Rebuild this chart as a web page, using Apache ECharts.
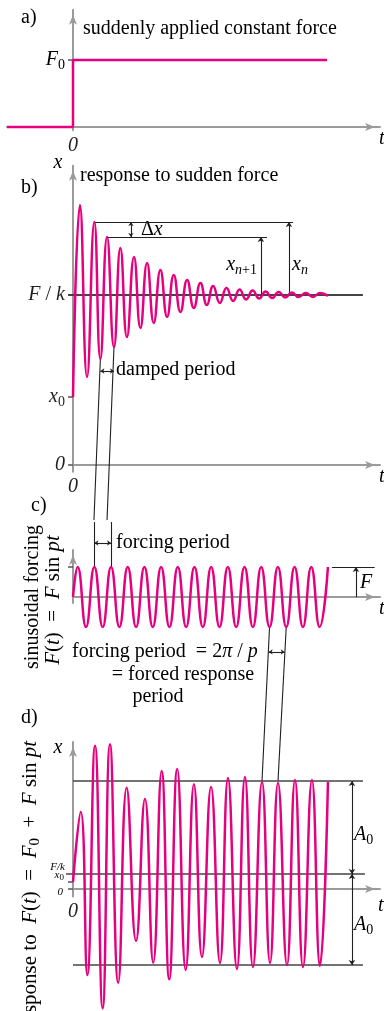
<!DOCTYPE html>
<html>
<head>
<meta charset="utf-8">
<script src="https://cdn.jsdelivr.net/npm/echarts@6.0.0/dist/echarts.min.js"></script>
<style>
  html, body { margin: 0; padding: 0; background: #fff; }
  #chart { width: 384px; height: 1011px; }
</style>
</head>
<body>
<div id="chart"></div>
<script>
// a) suddenly applied constant force (F0 = 1)
const aTimes = [-4.94, 0, 0, 19.03];
const aForce = [0, 0, 1, 1];

// b) response to sudden force  (x0 = 4, F/k = 10), extremes
const bTimes = [0, 0.52, 1.05, 1.6, 2.05, 2.55, 3.07, 3.55, 4.04, 4.57, 5.05, 5.55, 6.05, 6.55, 7.05, 7.55,
  8.05, 8.55, 9.05, 9.55, 10.03, 10.5, 11.0, 11.5, 12.0, 12.48, 12.97, 13.46, 13.95, 14.43, 14.92, 15.41,
  15.9, 16.4, 16.9, 17.45, 17.97, 18.5, 19.1];
const bResponse = [4, 15.29, 5.18, 14.29, 6.24, 13.41, 6.94, 12.76, 7.53, 12.24, 8.06, 11.88, 8.35, 11.47,
  8.71, 11.18, 9.0, 10.88, 9.24, 10.71, 9.41, 10.53, 9.53, 10.41, 9.65, 10.32, 9.74, 10.26, 9.79, 10.21,
  9.82, 10.18, 9.85, 10.15, 9.88, 10.12, 9.88, 10.12, 9.95];
const bTicks = [0, 4, 10];
const bTickLabels = ['{i|0}', '{i|x}{s|0}', '{i|F}{r| / }{i|k}'];

// c) sinusoidal forcing F sin pt  (F = 1)
const cTimes = [0, 0.35, 0.975, 1.6, 2.225, 2.85, 3.475, 4.1, 4.725, 5.35, 5.975, 6.6, 7.225, 7.85, 8.475,
  9.1, 9.725, 10.35, 10.975, 11.6, 12.225, 12.85, 13.475, 14.1, 14.725, 15.35, 15.975, 16.6, 17.225, 17.85,
  18.475, 19.1];
const cForce = [0, 1, -1, 1, -1, 1, -1, 1, -1, 1, -1, 1, -1, 1, -1, 1, -1, 1, -1, 1, -1, 1, -1, 1, -1, 1, -1,
  1, -1, 1, -1, 1];

// d) response to F0 + F sin pt  (F/k = 1, x0 = 0.47)
const dTimes = [0, 0.58, 1.07, 1.65, 2.22, 2.77, 3.39, 4.02, 4.72, 5.39, 6.01, 6.64, 7.21, 7.81, 8.44, 9.06,
  9.66, 10.34, 11.01, 11.61, 12.28, 12.88, 13.48, 14.16, 14.76, 15.36, 16.03, 16.63, 17.23, 17.9, 18.5, 19.1];
const dResponse = [0.47, 5.13, -5.73, 9.55, -7.95, 9.65, -6.25, 6.75, -3.45, 6.0, -4.91, 7.87, -6.02, 8.0,
  -5.4, 6.98, -4.53, 6.8, -4.93, 7.4, -5.33, 7.47, -5.2, 7.13, -4.93, 7.07, -5.07, 7.27, -5.2, 7.27, -5.13, 7.13];
const dTicks = [0, 0.47];
const dA0Top = 7.2;
const dA0Bottom = -5.07;

const PINK = '#e6007e', GRAY = '#9b9b9b', INK = '#231f20', DARK = '#444';
const SERIF = 'Liberation Serif';

const RICH = {
  r: { fontFamily: SERIF, fontSize: 20, color: INK },
  i: { fontFamily: SERIF, fontSize: 20, fontStyle: 'italic', color: INK },
  s: { fontFamily: SERIF, fontSize: 14, color: INK, padding: [10, 0, 0, 0] },
  si: { fontFamily: SERIF, fontSize: 14, fontStyle: 'italic', color: INK, padding: [10, 0, 0, 0] },
  ts: { fontFamily: SERIF, fontSize: 11, fontStyle: 'italic', color: INK },
  tss: { fontFamily: SERIF, fontSize: 9, color: INK, padding: [6, 0, 0, 0] },
  R: { fontFamily: SERIF, fontSize: 21, color: INK },
  I: { fontFamily: SERIF, fontSize: 21, fontStyle: 'italic', color: INK },
  S: { fontFamily: SERIF, fontSize: 15, color: INK, padding: [10, 0, 0, 0] }
};

const zip = (xs, ys) => xs.map((x, i) => [x, ys[i]]);

function xAxisFor(gridIndex, min, zeroLabel) {
  return {
    type: 'value', gridIndex: gridIndex, min: min, max: 23,
    axisLine: { onZero: true, symbol: ['none', 'arrow'], symbolSize: [6, 10], symbolOffset: [0, -5],
      lineStyle: { color: GRAY, width: 2 } },
    axisTick: { show: false },
    splitLine: { show: false },
    axisLabel: { show: zeroLabel, customValues: [0], formatter: () => '{i|0}', rich: RICH, margin: 5 }
  };
}

function yAxisFor(gridIndex, min, max, ticks, labels) {
  return {
    type: 'value', gridIndex: gridIndex, min: min, max: max,
    axisLine: { show: true, onZero: true, symbol: ['none', 'arrow'], symbolSize: [6, 10], symbolOffset: [0, -5],
      lineStyle: { color: GRAY, width: 2 } },
    axisTick: { show: true, customValues: ticks, length: 5, lineStyle: { color: '#555', width: 1.5 } },
    axisLabel: {
      show: labels.length > 0, customValues: ticks, rich: RICH, margin: 8,
      formatter: v => labels[ticks.findIndex(t => Math.abs(t - v) < 1e-6)] || ''
    },
    splitLine: { show: false }
  };
}

function curve(idx, data, smooth) {
  return {
    type: 'line', xAxisIndex: idx, yAxisIndex: idx, data: data, symbol: 'none', smooth: smooth,
    lineStyle: { color: PINK, width: 2.5 }, clip: false, silent: true, animation: false
  };
}

function segs(idx, list, symbol, color, width, size) {
  return {
    type: 'lines', coordinateSystem: 'cartesian2d', xAxisIndex: idx, yAxisIndex: idx,
    data: list.map(c => ({ coords: c })), symbol: symbol, symbolSize: size || 6,
    lineStyle: { color: color, width: width, opacity: 1, curveness: 0 }, clip: false, silent: true
  };
}

// annotation segments, in each panel's own data units
const bRefLines = [[[-0.37, 10], [21.72, 10]]];
const bPlain = [
  [[bTimes[3], bResponse[3]], [16.48, bResponse[3]]],
  [[bTimes[5], bResponse[5]], [14.53, bResponse[5]]],
  [[bTimes[4], bResponse[4]], [1.57, -3.24]],
  [[bTimes[6], bResponse[6]], [2.55, -3.24]]
];
const bArrowUp = [
  [[16.18, 10], [16.18, bResponse[3]]],
  [[14.08, 10], [14.08, bResponse[5]]]
];
const bArrowBoth = [
  [[4.34, bResponse[5]], [4.34, bResponse[3]]],
  [[2.05, 5.53], [3.07, 5.53]]
];
const cPlain = [
  [[cTimes[3], 2.5], [cTimes[3], 1]],
  [[cTimes[5], 2.5], [cTimes[5], 1]],
  [[cTimes[24], -1], [dTimes[23], -6.13]],
  [[cTimes[26], -1], [dTimes[25], -6.13]],
  [[19.4, 1], [22.6, 1]]
];
const cArrowUp = [[[21.2, 0], [21.2, 1]]];
const cArrowBoth = [
  [[cTimes[3], 1.8], [cTimes[5], 1.8]],
  [[14.66, -1.83], [15.86, -1.83]]
];
const dRefLines = [
  [[-0.52, 1], [21.87, 1]],
  [[0, dA0Top], [21.72, dA0Top]],
  [[0, dA0Bottom], [21.72, dA0Bottom]]
];
const dArrowBoth = [
  [[20.9, 1], [20.9, dA0Top]],
  [[20.9, 1], [20.9, dA0Bottom]]
];

// text annotations: [rich text, x, y, align, rotated]
const texts = [
  ['{r|a)}', 21, 18, 'left'],
  ['{r|suddenly applied constant force}', 83, 29, 'left'],
  ['{i|F}{s|0}', 65, 60, 'right'],
  ['{i|t}', 379, 139, 'left'],
  ['{i|x}', 58, 163, 'center'],
  ['{r|b)}', 21, 188, 'left'],
  ['{r|response to sudden force}', 80, 176, 'left'],
  ['{r|Δ}{i|x}', 141, 230, 'left'],
  ['{i|x}{si|n}{s|+1}', 257, 265, 'right'],
  ['{i|x}{si|n}', 292, 265, 'left'],
  ['{r|damped period}', 116, 370, 'left'],
  ['{i|t}', 379, 477, 'left'],
  ['{r|c)}', 31, 506, 'left'],
  ['{r|forcing period}', 116, 543, 'left'],
  ['{i|F}', 360, 583, 'left'],
  ['{i|t}', 379, 609, 'left'],
  ['{r|forcing period  = 2}{i|π}{r| / }{i|p}', 72, 652, 'left'],
  ['{r|= forced response}', 183, 675, 'center'],
  ['{r|period}', 158, 697, 'center'],
  ['{r|d)}', 21, 718, 'left'],
  ['{i|x}', 58, 748, 'center'],
  ['{i|A}{s|0}', 354, 835, 'left'],
  ['{i|A}{s|0}', 354, 925, 'left'],
  ['{i|t}', 378, 906, 'left'],
  ['{ts|F/k}', 65, 867, 'right'],
  ['{ts|x}{tss|0}', 64, 875, 'right'],
  ['{ts|0}', 63, 892, 'right'],
  ['{r|sinusoidal forcing}', 33, 597, 'center', true],
  ['{I|F}{R|(}{I|t}{R|)  =  }{I|F}{R| sin }{I|pt}', 53, 600, 'center', true],
  ['{R|response to  }{I|F}{R|(}{I|t}{R|)  =  }{I|F}{S|0}{R|  +  }{I|F}{R| sin }{I|pt}', 30, 741, 'right', true]
];

const chart = echarts.init(document.getElementById('chart'), null, { renderer: 'canvas' });

const option = {
  animation: false,
  backgroundColor: '#fff',
  grid: [
    { left: 7, top: 9.75, width: 373, height: 120.6, outerBoundsMode: 'none' },
    { left: 73, top: 165.8, width: 307, height: 306, outerBoundsMode: 'none' },
    { left: 73, top: 549.9, width: 307, height: 53.1, outerBoundsMode: 'none' },
    { left: 73, top: 742, width: 307, height: 154.5, outerBoundsMode: 'none' }
  ],
  xAxis: [
    xAxisFor(0, -4.944, true),
    xAxisFor(1, 0, true),
    xAxisFor(2, 0, false),
    xAxisFor(3, 0, true)
  ],
  yAxis: [
    yAxisFor(0, -0.05, 1.75, [1], []),
    yAxisFor(1, -0.4, 17.6, bTicks, bTickLabels),
    yAxisFor(2, -0.2, 1.57, [1], []),
    yAxisFor(3, -0.5, 9.8, dTicks, [])
  ],
  series: [
    curve(0, zip(aTimes, aForce), false),
    curve(1, zip(bTimes, bResponse), 0.5),
    curve(2, zip(cTimes, cForce), 0.5),
    curve(3, zip(dTimes, dResponse), 0.5),
    segs(1, bRefLines, 'none', DARK, 1.8),
    segs(1, bPlain, 'none', INK, 1.1),
    segs(1, bArrowUp, ['none', 'arrow'], INK, 1.1, 5),
    segs(1, bArrowBoth, ['arrow', 'arrow'], INK, 1.1, 4),
    segs(2, cPlain, 'none', INK, 1.1),
    segs(2, cArrowUp, ['none', 'arrow'], INK, 1.1, 5),
    segs(2, cArrowBoth, ['arrow', 'arrow'], INK, 1.1, 4),
    segs(3, dRefLines, 'none', DARK, 1.6),
    segs(3, dArrowBoth, ['arrow', 'arrow'], INK, 1.1, 5)
  ],
  graphic: texts.map(t => ({
    type: 'text', x: t[1], y: t[2], rotation: t[4] ? Math.PI / 2 : 0, silent: true,
    style: { text: t[0], rich: RICH, align: t[3], verticalAlign: 'middle' }
  }))
};

chart.setOption(option);
</script>
</body>
</html>
